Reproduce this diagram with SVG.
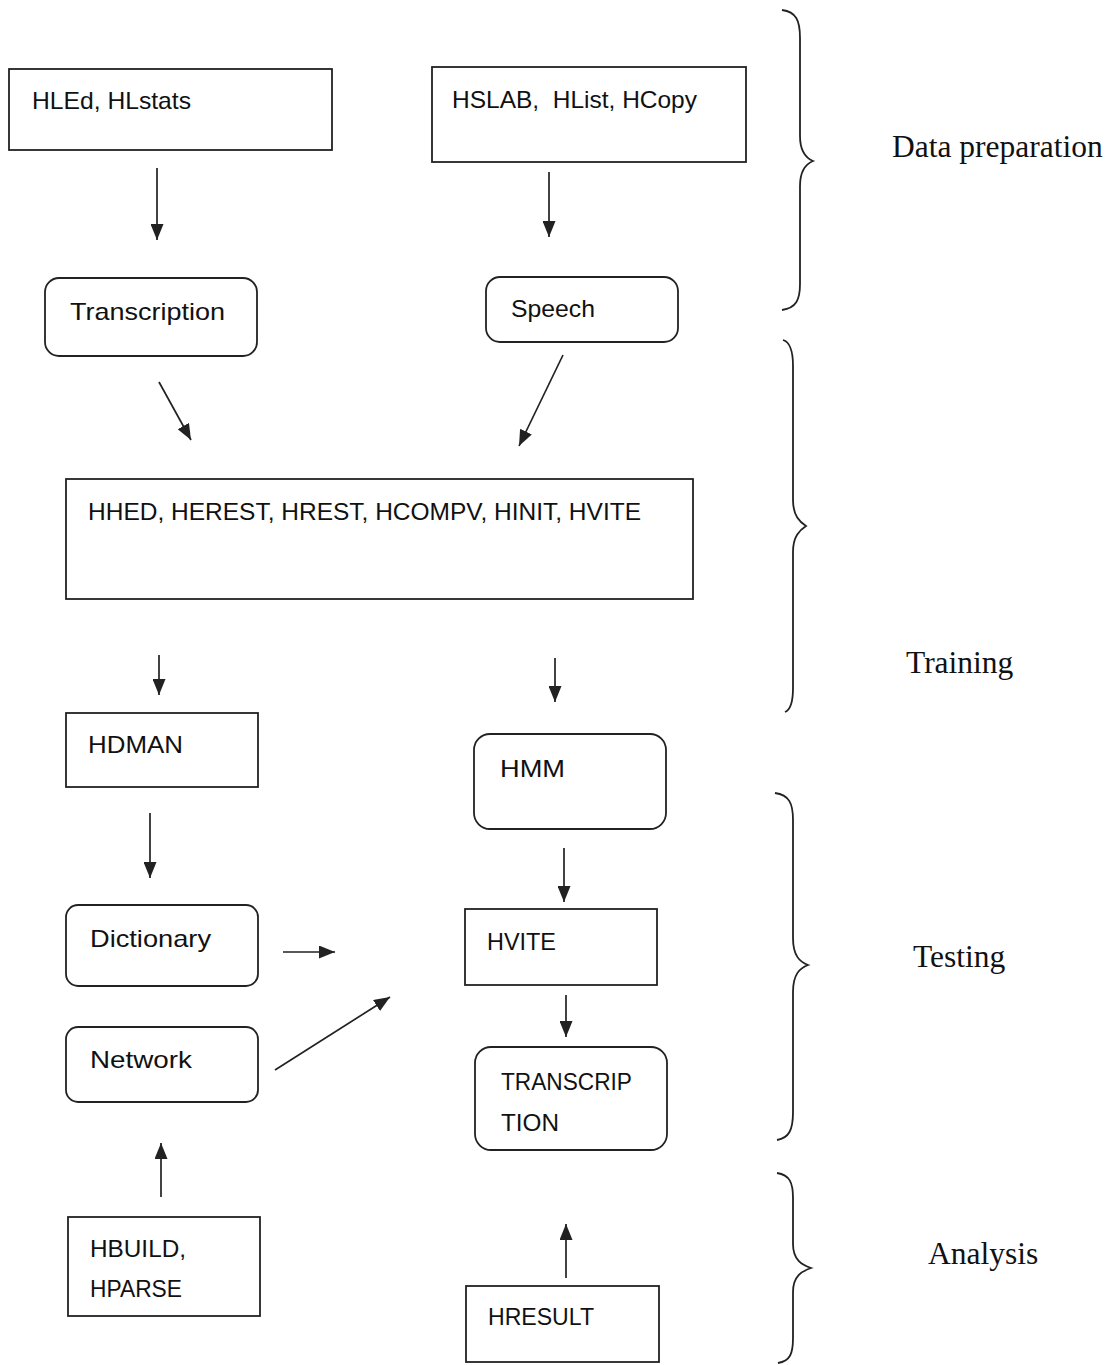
<svg xmlns="http://www.w3.org/2000/svg" width="1111" height="1365" viewBox="0 0 1111 1365">
  <style>
    .box { fill: #fff; stroke: #222; stroke-width: 1.8; }
    .lbl { font-family: "Liberation Sans", Arial, sans-serif; font-size: 24px; fill: #111; white-space: pre; }
    .phase { font-family: "Liberation Serif", "Times New Roman", serif; font-size: 31.5px; fill: #111; }
    .edge { stroke: #222; stroke-width: 1.7; fill: none; marker-end: url(#head); }
    .brace { stroke: #222; stroke-width: 1.8; fill: none; }
  </style>
  <defs>
    <marker id="head" markerUnits="userSpaceOnUse" markerWidth="17" markerHeight="13" refX="16" refY="6.5" orient="auto">
      <path d="M0,0 L16,6.5 L0,13 z" fill="#222"/>
    </marker>
  </defs>
  <rect width="1111" height="1365" fill="#fff"/>

  <!-- tool / data nodes -->
  <g id="n-hled">
    <rect class="box" x="9" y="69" width="323" height="81"/>
    <text class="lbl" x="32" y="109" textLength="159" lengthAdjust="spacingAndGlyphs">HLEd, HLstats</text>
  </g>
  <g id="n-hslab">
    <rect class="box" x="432" y="67" width="314" height="95"/>
    <text class="lbl" x="452" y="108" textLength="245" lengthAdjust="spacingAndGlyphs">HSLAB,  HList, HCopy</text>
  </g>
  <g id="n-transcription">
    <rect class="box" x="45" y="278" width="212" height="78" rx="14"/>
    <text class="lbl" x="70" y="320" textLength="155" lengthAdjust="spacingAndGlyphs">Transcription</text>
  </g>
  <g id="n-speech">
    <rect class="box" x="486" y="277" width="192" height="65" rx="14"/>
    <text class="lbl" x="511" y="317" textLength="84" lengthAdjust="spacingAndGlyphs">Speech</text>
  </g>
  <g id="n-training-tools">
    <rect class="box" x="66" y="479" width="627" height="120"/>
    <text class="lbl" x="88" y="520" textLength="553" lengthAdjust="spacingAndGlyphs">HHED, HEREST, HREST, HCOMPV, HINIT, HVITE</text>
  </g>
  <g id="n-hdman">
    <rect class="box" x="66" y="713" width="192" height="74"/>
    <text class="lbl" x="88" y="753" textLength="95" lengthAdjust="spacingAndGlyphs">HDMAN</text>
  </g>
  <g id="n-hmm">
    <rect class="box" x="474" y="734" width="192" height="95" rx="16"/>
    <text class="lbl" x="500" y="777" textLength="65" lengthAdjust="spacingAndGlyphs">HMM</text>
  </g>
  <g id="n-dictionary">
    <rect class="box" x="66" y="905" width="192" height="81" rx="12"/>
    <text class="lbl" x="90" y="947" textLength="121" lengthAdjust="spacingAndGlyphs">Dictionary</text>
  </g>
  <g id="n-network">
    <rect class="box" x="66" y="1027" width="192" height="75" rx="12"/>
    <text class="lbl" x="90" y="1068" textLength="102" lengthAdjust="spacingAndGlyphs">Network</text>
  </g>
  <g id="n-hvite">
    <rect class="box" x="465" y="909" width="192" height="76"/>
    <text class="lbl" x="487" y="950" textLength="69" lengthAdjust="spacingAndGlyphs">HVITE</text>
  </g>
  <g id="n-transcription-out">
    <rect class="box" x="475" y="1047" width="192" height="103" rx="16"/>
    <text class="lbl" x="501" y="1090" textLength="131" lengthAdjust="spacingAndGlyphs">TRANSCRIP</text>
    <text class="lbl" x="501" y="1131" textLength="58" lengthAdjust="spacingAndGlyphs">TION</text>
  </g>
  <g id="n-hbuild">
    <rect class="box" x="68" y="1217" width="192" height="99"/>
    <text class="lbl" x="90" y="1257" textLength="96" lengthAdjust="spacingAndGlyphs">HBUILD,</text>
    <text class="lbl" x="90" y="1297" textLength="92" lengthAdjust="spacingAndGlyphs">HPARSE</text>
  </g>
  <g id="n-hresult">
    <rect class="box" x="466" y="1286" width="193" height="76"/>
    <text class="lbl" x="488" y="1325" textLength="106" lengthAdjust="spacingAndGlyphs">HRESULT</text>
  </g>

  <!-- connectors -->
  <g id="connectors">
    <line class="edge" x1="157" y1="168" x2="157" y2="240"/>
    <line class="edge" x1="549" y1="172" x2="549" y2="237"/>
    <line class="edge" x1="159" y1="382" x2="191" y2="440"/>
    <line class="edge" x1="563" y1="355" x2="519" y2="446"/>
    <line class="edge" x1="159" y1="655" x2="159" y2="695"/>
    <line class="edge" x1="555" y1="658" x2="555" y2="702"/>
    <line class="edge" x1="150" y1="813" x2="150" y2="878"/>
    <line class="edge" x1="564" y1="848" x2="564" y2="902"/>
    <line class="edge" x1="283" y1="952" x2="335" y2="952"/>
    <line class="edge" x1="275" y1="1070" x2="390" y2="997"/>
    <line class="edge" x1="566" y1="995" x2="566" y2="1037"/>
    <line class="edge" x1="161" y1="1197" x2="161" y2="1143"/>
    <line class="edge" x1="566" y1="1278" x2="566" y2="1224"/>
  </g>

  <!-- phase braces and labels -->
  <g id="phase-data-preparation">
    <path class="brace" d="M782,10 C796,12 800,20 800,38 L800,136 C800,152 806,158 813,161 C806,164 800,170 800,186 L800,284 C800,300 796,308 782,310"/>
    <text class="phase" x="892" y="157">Data preparation</text>
  </g>
  <g id="phase-training">
    <path class="brace" d="M783,340 C790,342 793,350 793,366 L793,500 C793,516 800,522 806,526 C800,530 793,536 793,552 L793,688 C793,704 790,710 785,712"/>
    <text class="phase" x="906" y="673">Training</text>
  </g>
  <g id="phase-testing">
    <path class="brace" d="M775,793 C789,795 793,803 793,820 L793,938 C793,956 800,962 808,965 C800,968 793,974 793,992 L793,1112 C793,1130 789,1138 777,1140"/>
    <text class="phase" x="913" y="967">Testing</text>
  </g>
  <g id="phase-analysis">
    <path class="brace" d="M777,1173 C790,1175 793,1183 793,1198 L793,1244 C793,1260 802,1265 811,1268 C802,1271 793,1276 793,1292 L793,1338 C793,1354 790,1361 778,1363"/>
    <text class="phase" x="928" y="1264">Analysis</text>
  </g>
</svg>
